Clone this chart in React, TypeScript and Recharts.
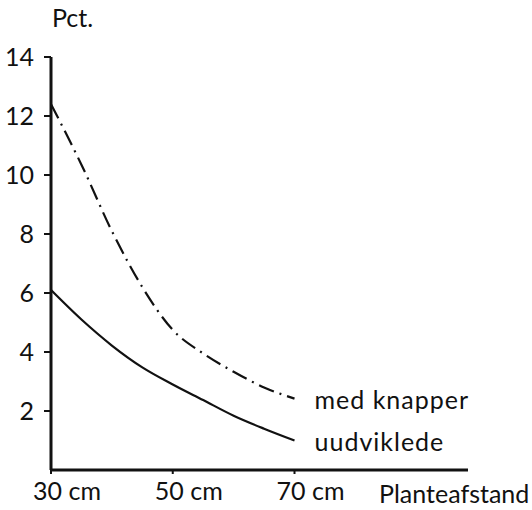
import React from "react";
import { ComposedChart, XAxis, YAxis, Line, LabelList } from "recharts";

// Plant spacing (cm) and share (pct.)
const spacing = [30, 35, 40, 45, 50, 55, 60, 65, 70];
const medKnapper = [12.4, 10.35, 8.1, 6.2, 4.75, 3.95, 3.33, 2.8, 2.42];
const uudviklede = [6.1, 5.1, 4.22, 3.48, 2.9, 2.37, 1.84, 1.4, 1.0];
const xTicks = [30, 50, 70];
const yTicks = [2, 4, 6, 8, 10, 12, 14];
const seriesNames = ["med knapper", "uudviklede"];

const data = spacing.map((x, i) => ({
  x,
  knapper: medKnapper[i],
  uudv: uudviklede[i],
}));

const FONT = "Lato, 'Open Sans', sans-serif";
const SIZE = 25;
const last = spacing.length - 1;

const endLabel = (name) => (props) => {
  const { x, y, index } = props;
  if (index !== last) return null;
  return (
    <text
      x={x + 20}
      y={y + 10}
      fontFamily={FONT}
      fontSize={SIZE}
      letterSpacing={1}
      fill="#111"
    >
      {name}
    </text>
  );
};

export default function App() {
  return (
    <div style={{ position: "absolute", left: 0, top: 0, background: "#fff" }}>
      <ComposedChart
        width={532}
        height={510}
        data={data}
        margin={{ top: 57, right: 64, bottom: 0, left: 0 }}
      >
        <XAxis
          dataKey="x"
          type="number"
          domain={[30, 98.5]}
          ticks={xTicks}
          height={40}
          axisLine={{ stroke: "#111", strokeWidth: 3 }}
          tickLine={{ stroke: "#111", strokeWidth: 2 }}
          tickSize={4}
          tick={{ fill: "#111", fontSize: SIZE, fontFamily: FONT, dx: 16, dy: 6 }}
          tickFormatter={(v) => `${v} cm`}
        />
        <YAxis
          type="number"
          domain={[0, 14]}
          ticks={yTicks}
          width={51}
          axisLine={{ stroke: "#111", strokeWidth: 3 }}
          tickLine={{ stroke: "#111", strokeWidth: 2 }}
          tickSize={7}
          tickMargin={10}
          tick={{ fill: "#111", fontSize: SIZE, fontFamily: FONT }}
        />
        <Line
          dataKey="knapper"
          type="monotone"
          stroke="#111"
          strokeWidth={2.2}
          strokeDasharray="16 6 2 6"
          dot={false}
          isAnimationActive={false}
        >
          <LabelList dataKey="knapper" content={endLabel(seriesNames[0])} />
        </Line>
        <Line
          dataKey="uudv"
          type="monotone"
          stroke="#111"
          strokeWidth={2.2}
          dot={false}
          isAnimationActive={false}
        >
          <LabelList dataKey="uudv" content={endLabel(seriesNames[1])} />
        </Line>
        <text x={52} y={27} fontFamily={FONT} fontSize={SIZE} fill="#111">
          Pct.
        </text>
        <text x={379} y={503} fontFamily={FONT} fontSize={SIZE} fill="#111">
          Planteafstand
        </text>
      </ComposedChart>
    </div>
  );
}
